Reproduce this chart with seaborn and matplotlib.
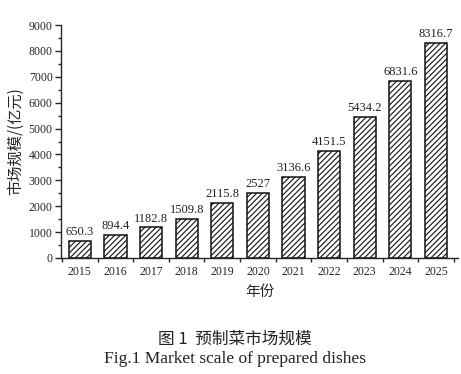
import matplotlib
matplotlib.use("Agg")
import matplotlib.pyplot as plt
import seaborn as sns
import pandas as pd
from matplotlib.ticker import MultipleLocator, FixedLocator

years = ["2015", "2016", "2017", "2018", "2019", "2020", "2021", "2022", "2023", "2024", "2025"]
values = [650.3, 894.4, 1182.8, 1509.8, 2115.8, 2527, 3136.6, 4151.5, 5434.2, 6831.6, 8316.7]
value_labels = ["650.3", "894.4", "1182.8", "1509.8", "2115.8", "2527", "3136.6", "4151.5", "5434.2", "6831.6", "8316.7"]

sns.set_style("ticks")
plt.rcParams["font.family"] = ["Liberation Serif", "Noto Sans CJK SC"]
plt.rcParams["hatch.linewidth"] = 0.8

df = pd.DataFrame({"year": years, "value": values})

fig = plt.figure(figsize=(4.61, 3.74), dpi=100)
ax = fig.add_axes([61 / 461, 116 / 374, 397 / 461, 233 / 374])

sns.barplot(data=df, x="year", y="value", ax=ax, color="white", width=0.62,
            edgecolor="#111111", linewidth=1.1, saturation=1)
for p in ax.patches:
    p.set_hatch("//////")
    p.set_facecolor("white")
    p.set_edgecolor("#111111")

for i, (v, t) in enumerate(zip(values, value_labels)):
    ax.text(i, v + 110, t, ha="center", va="bottom", fontsize=9,
            family="Liberation Serif", color="#222222")

ax.set_ylim(0, 9000)
ax.set_xlim(-0.53, 10.62)
ax.yaxis.set_major_locator(MultipleLocator(1000))
ax.yaxis.set_minor_locator(MultipleLocator(500))
ax.tick_params(axis="y", which="major", length=4, width=1, direction="out", labelsize=8.5, pad=2)
ax.tick_params(axis="y", which="minor", length=2.5, width=1, direction="out")
ax.xaxis.set_minor_locator(FixedLocator([i - 0.5 for i in range(len(years) + 1)]))
ax.tick_params(axis="x", which="major", length=0, labelsize=8.5, pad=6)
ax.tick_params(axis="x", which="minor", length=3, width=1, direction="out")
for lab in ax.get_xticklabels() + ax.get_yticklabels():
    lab.set_family("Liberation Serif")

sns.despine(ax=ax, top=True, right=True)
ax.spines["left"].set_linewidth(1.0)
ax.spines["bottom"].set_linewidth(1.0)

ax.set_xlabel("年份", family="Noto Sans CJK SC", fontsize=10.5, labelpad=5)
ax.set_ylabel("市场规模/(亿元)", family="Noto Sans CJK SC", fontsize=11, labelpad=3)

fig.text(235 / 461, 1 - 339 / 374, "图 1  预制菜市场规模", ha="center", va="center",
         fontsize=12, family=["Noto Sans CJK SC"], color="#222222")
fig.text(235 / 461, 1 - 359 / 374, "Fig.1 Market scale of prepared dishes", ha="center",
         va="center", fontsize=12.5, family="Liberation Serif", color="#222222")

fig.savefig("out.png", dpi=100)
